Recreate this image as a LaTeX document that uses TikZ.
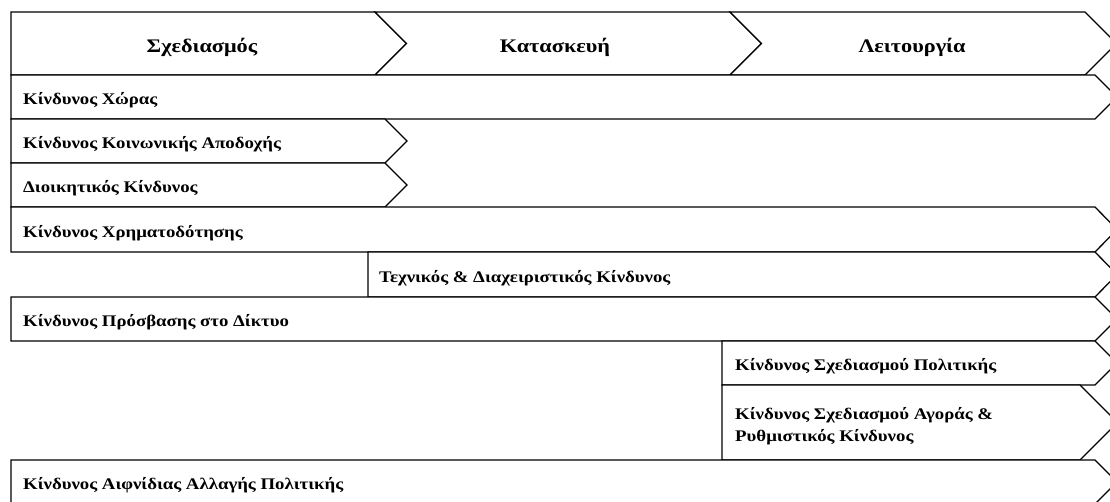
\documentclass[tikz,border=0pt]{standalone}
\usepackage{fontspec}
\setmainfont{Liberation Serif}
\newfontfamily\labelfont[FakeStretch=1.16]{Liberation Serif}
\begin{document}
\begin{tikzpicture}[x=1pt,y=-1pt,
  band/.style={draw=black,line width=1.3pt,line join=miter,fill=white},
  rowtext/.style={anchor=base west,inner sep=0pt,font=\labelfont\fontsize{16.2}{22.5}\selectfont\bfseries,align=left},
  headtext/.style={anchor=base,inner sep=0pt,font=\labelfont\fontsize{19.2}{24}\selectfont\bfseries}]
\useasboundingbox (0,0) rectangle (1110,501);
\begin{scope}
\clip (0,0) rectangle (1110,501);
% phase chevrons across the top
\draw[band] (11,12) -- (375,12) -- (406.5,43.5) -- (375,75) -- (11,75) -- cycle;
\draw[band] (375,12) -- (730,12) -- (761.5,43.5) -- (730,75) -- (375,75) -- (406.5,43.5) -- cycle;
\draw[band] (730,12) -- (1085,12) -- (1116.5,43.5) -- (1085,75) -- (730,75) -- (761.5,43.5) -- cycle;
% risk bands, each spanning the phases it affects
\draw[band] (11,75) -- (1095,75) -- (1117,97) -- (1095,119) -- (11,119) -- cycle;
\draw[band] (11,119) -- (385,119) -- (407,141) -- (385,163) -- (11,163) -- cycle;
\draw[band] (11,163) -- (385,163) -- (407,185) -- (385,207) -- (11,207) -- cycle;
\draw[band] (11,207) -- (1095,207) -- (1117,229.5) -- (1095,252) -- (11,252) -- cycle;
\draw[band] (368,252) -- (1095,252) -- (1117,274.5) -- (1095,297) -- (368,297) -- cycle;
\draw[band] (11,297) -- (1095,297) -- (1117,319) -- (1095,341) -- (11,341) -- cycle;
\draw[band] (722,341) -- (1095,341) -- (1117,363) -- (1095,385) -- (722,385) -- cycle;
\draw[band] (722,385) -- (1080,385) -- (1117.5,422.5) -- (1080,460) -- (722,460) -- cycle;
\draw[band] (11,460) -- (1095,460) -- (1117,482) -- (1095,504) -- (11,504) -- cycle;
\end{scope}
% phase labels
\node[headtext] (design) at (202,52) {Σχεδιασμός};
\node[headtext] (build) at (555,52) {Κατασκευή};
\node[headtext] (operate) at (912,52) {Λειτουργία};
% risk labels
\node[rowtext] (country) at (23,104.5) {Κίνδυνος Χώρας};
\node[rowtext] (social) at (23,148.5) {Κίνδυνος Κοινωνικής Αποδοχής};
\node[rowtext] (admin) at (23,192.5) {Διοικητικός Κίνδυνος};
\node[rowtext] (finance) at (23,237) {Κίνδυνος Χρηματοδότησης};
\node[rowtext] (tech) at (379,282) {Τεχνικός \& Διαχειριστικός Κίνδυνος};
\node[rowtext] (grid) at (23,326.5) {Κίνδυνος Πρόσβασης στο Δίκτυο};
\node[rowtext] (policy) at (735,370.5) {Κίνδυνος Σχεδιασμού Πολιτικής};
\node[rowtext,anchor=north west] (market) at (735,407) {Κίνδυνος Σχεδιασμού Αγοράς \&\\Ρυθμιστικός Κίνδυνος};
\node[rowtext] (change) at (23,489.5) {Κίνδυνος Αιφνίδιας Αλλαγής Πολιτικής};
\end{tikzpicture}
\end{document}
